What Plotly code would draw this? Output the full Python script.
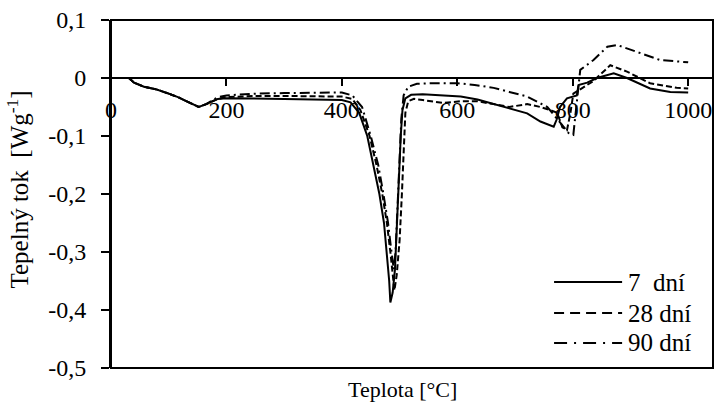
import plotly.graph_objects as go

# ---------------- data ----------------
t_7 = [31, 40, 57, 80, 100, 116, 135, 152, 165, 185, 200, 250, 300, 350, 400, 415, 430, 444, 455, 465,
       473, 478, 482, 484, 488, 492, 496, 499, 502, 505, 510, 520, 540, 580, 606, 635, 663, 690, 721, 744,
       756, 767, 772, 778, 790, 807, 810, 825, 842, 871, 894, 915, 934, 969, 1000]
v_7 = [0, -0.008, -0.015, -0.02, -0.027, -0.033, -0.042, -0.05, -0.045, -0.036, -0.035, -0.035, -0.036, -0.037, -0.038, -0.042, -0.06, -0.10, -0.15, -0.20,
       -0.25, -0.30, -0.35, -0.387, -0.37, -0.33, -0.25, -0.17, -0.10, -0.055, -0.035, -0.029, -0.028, -0.030, -0.032, -0.037, -0.045, -0.052, -0.061, -0.075,
       -0.080, -0.084, -0.072, -0.05, -0.035, -0.030, -0.012, -0.008, 0.0, 0.008, 0.0, -0.01, -0.018, -0.024, -0.025]

t_28 = [31, 40, 57, 80, 100, 116, 135, 152, 165, 185, 200, 250, 300, 350, 400, 418, 432, 448, 460, 470,
        478, 484, 488, 491, 495, 500, 504, 507, 510, 515, 525, 540, 576, 606, 634, 663, 690, 721, 744, 760,
        773, 782, 790, 796, 801, 836, 865, 894, 934, 980, 1000]
v_28 = [0, -0.008, -0.015, -0.02, -0.027, -0.033, -0.042, -0.05, -0.045, -0.036, -0.033, -0.031, -0.031, -0.031, -0.032, -0.036, -0.055, -0.10, -0.15, -0.20,
        -0.25, -0.30, -0.34, -0.366, -0.34, -0.28, -0.20, -0.12, -0.06, -0.04, -0.036, -0.038, -0.043, -0.040, -0.040, -0.045, -0.050, -0.045, -0.050, -0.055,
        -0.060, -0.085, -0.09, -0.06, -0.027, -0.005, 0.022, 0.011, -0.009, -0.017, -0.018]

t_90 = [31, 40, 57, 80, 100, 116, 135, 152, 165, 185, 200, 250, 300, 350, 400, 418, 435, 450, 463, 472,
        480, 486, 490, 493, 497, 500, 503, 507, 515, 530, 560, 600, 630, 663, 690, 721, 756, 779, 793, 801,
        803, 813, 836, 860, 877, 911, 951, 1000]
v_90 = [0, -0.008, -0.015, -0.02, -0.027, -0.033, -0.042, -0.05, -0.045, -0.033, -0.030, -0.027, -0.026, -0.025, -0.025, -0.03, -0.05, -0.10, -0.15, -0.20,
        -0.25, -0.30, -0.33, -0.30, -0.22, -0.14, -0.07, -0.03, -0.015, -0.01, -0.009, -0.009, -0.012, -0.017, -0.024, -0.032, -0.05, -0.078, -0.095, -0.098,
        -0.08, 0.014, 0.031, 0.054, 0.057, 0.045, 0.031, 0.027]

series_names = ["7\u00a0\u00a0dní", "28 dní", "90 dní"]
x_ticks = [0, 200, 400, 600, 800, 1000]
y_ticks = [-0.5, -0.4, -0.3, -0.2, -0.1, 0, 0.1]
y_tick_text = ["-0,5", "-0,4", "-0,3", "-0,2", "-0,1", "0", "0,1"]

# ---------------- styling ----------------
FONT = "Times New Roman"
dashes = ["solid", "6px,3px", "10px,4px,2px,4px"]
legend_dashes = ["solid", "10px,6px", "13px,7px,2px,7px"]

fig = go.Figure()
for t, v, d in zip([t_7, t_28, t_90], [v_7, v_28, v_90], dashes):
    fig.add_trace(go.Scatter(x=t, y=v, mode="lines",
                             line=dict(color="black", width=2, dash=d),
                             showlegend=False, hoverinfo="skip"))

ymin, ymax = -0.5, 0.1
tickfont = dict(family=FONT, size=24, color="black")
fig.update_layout(
    width=715, height=406,
    margin=dict(l=111, r=2, t=20, b=38, autoexpand=False),
    paper_bgcolor="white", plot_bgcolor="white",
    font=dict(family=FONT, size=24, color="black"),
    xaxis=dict(range=[0, 1043], tickvals=x_ticks, ticktext=[str(x) for x in x_ticks],
               anchor="free", position=(0 - ymin) / (ymax - ymin), automargin=False,
               showline=True, linecolor="black", linewidth=2, tickfont=tickfont,
               ticks="outside", ticklen=7, tickwidth=1.5, tickcolor="black",
               ticklabelstandoff=3, showgrid=False, zeroline=False),
    yaxis=dict(range=[ymin, ymax], tickvals=y_ticks, ticktext=y_tick_text, automargin=False,
               showline=True, linecolor="black", linewidth=2, tickfont=tickfont,
               ticks="outside", ticklen=8, tickwidth=1.5, tickcolor="black",
               ticklabelstandoff=10, showgrid=False, zeroline=False),
)

# frame
fig.add_shape(type="rect", xref="paper", yref="paper", x0=0, x1=1, y0=0, y1=1,
              line=dict(color="black", width=2), layer="above")

# axis titles
fig.add_annotation(text="Teplota [°C]", xref="paper", yref="paper", x=0.4834, y=-0.063,
                   showarrow=False, xanchor="center", yanchor="middle",
                   font=dict(family=FONT, size=22, color="black"))
fig.add_annotation(text="Tepelný tok  [Wg<sup>-1</sup>]", xref="paper", yref="paper",
                   x=-0.155, y=0.512, textangle=-90, showarrow=False,
                   xanchor="center", yanchor="middle",
                   font=dict(family=FONT, size=25, color="black"))

# custom legend
leg_y = [0.247, 0.158, 0.072]
for name, d, yy in zip(series_names, legend_dashes, leg_y):
    fig.add_shape(type="line", xref="paper", yref="paper", x0=0.736, x1=0.849, y0=yy, y1=yy,
                  line=dict(color="black", width=2, dash=d))
    fig.add_annotation(text=name, xref="paper", yref="paper", x=0.856, y=yy,
                       showarrow=False, xanchor="left", yanchor="middle",
                       font=dict(family=FONT, size=25, color="black"))

fig.write_html("out.html", config={"displayModeBar": False},
               post_script="document.body.style.margin='0';")
